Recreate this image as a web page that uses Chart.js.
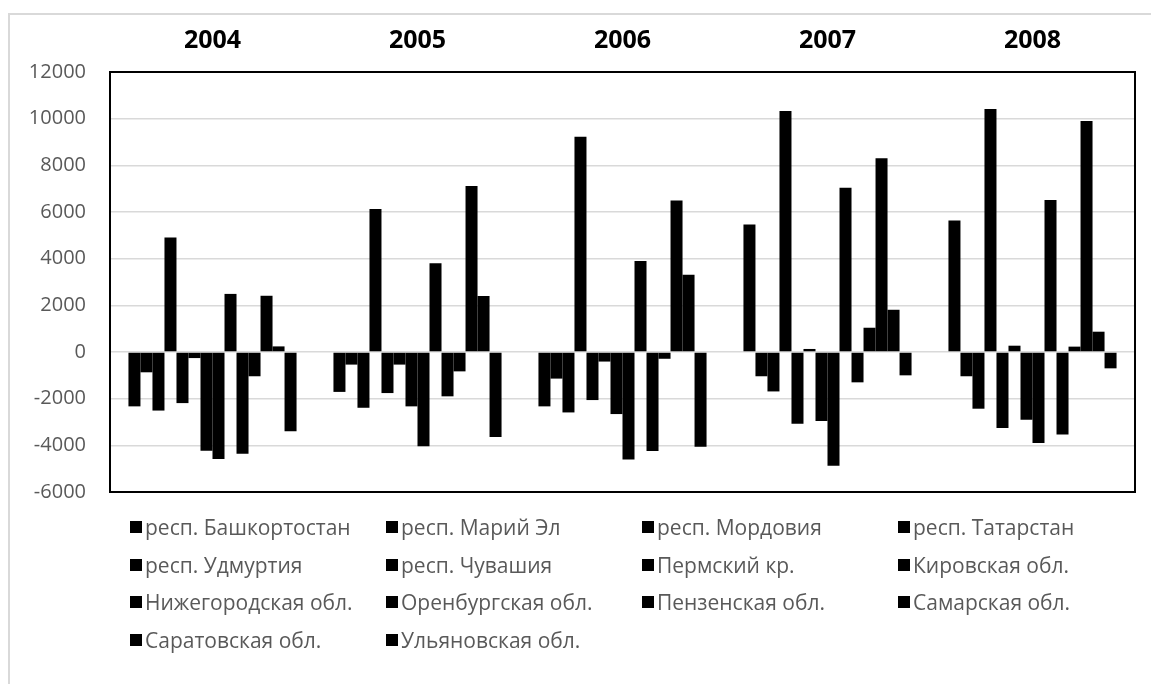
<!DOCTYPE html>
<html>
<head>
<meta charset="utf-8">
<script src="https://cdn.jsdelivr.net/npm/chart.js@4"></script>
<style>
  body { margin: 0; background: #fff; }
  #wrap { position: relative; width: 1151px; height: 684px; }
  #legend { position: absolute; left: 0; top: 0; width: 1151px; height: 684px; pointer-events: none;
            font-family: "Open Sans", sans-serif; font-size: 21px; line-height: 24px; color: #595959; }
  .item { position: absolute; display: flex; align-items: center; white-space: nowrap; }
  .box { width: 12px; height: 12px; background: #000; margin-right: 3px; }
</style>
</head>
<body>
<div id="wrap">
  <canvas id="myChart" width="1151" height="684"></canvas>
  <div id="legend"></div>
</div>
<script>
const years = ['2004', '2005', '2006', '2007', '2008'];
const regions = ['респ. Башкортостан', 'респ. Марий Эл', 'респ. Мордовия', 'респ. Татарстан',
                 'респ. Удмуртия', 'респ. Чувашия', 'Пермский кр.', 'Кировская обл.',
                 'Нижегородская обл.', 'Оренбургская обл.', 'Пензенская обл.', 'Самарская обл.',
                 'Саратовская обл.', 'Ульяновская обл.'];
const yTicks = [-6000, -4000, -2000, 0, 2000, 4000, 6000, 8000, 10000, 12000];

// values per region, one per year
const bashkortostan = [-2330, -1710, -2330, 5460, 5640];
const mariyEl = [-870, -540, -1140, -1040, -1040];
const mordoviya = [-2510, -2390, -2590, -1690, -2430];
const tatarstan = [4910, 6130, 9230, 10330, 10410];
const udmurtiya = [-2190, -1760, -2060, -3070, -3260];
const chuvashiya = [-260, -540, -410, 130, 270];
const perm = [-4230, -2330, -2660, -2960, -2900];
const kirov = [-4590, -4040, -4610, -4870, -3900];
const nizhniy = [2490, 3800, 3900, 7040, 6510];
const orenburg = [-4360, -1900, -4240, -1300, -3540];
const penza = [-1040, -830, -290, 1040, 230];
const samara = [2410, 7110, 6490, 8300, 9900];
const saratov = [240, 2400, 3310, 1810, 870];
const ulyanovsk = [-3400, -3640, -4060, -1000, -700];

const seriesValues = [bashkortostan, mariyEl, mordoviya, tatarstan, udmurtiya, chuvashiya, perm,
                      kirov, nizhniy, orenburg, penza, samara, saratov, ulyanovsk];

document.addEventListener("DOMContentLoaded", () => {
    const ctx = document.getElementById('myChart').getContext('2d');

    const frame = {
        id: 'frame',
        beforeDraw(chart) {
            const c = chart.ctx;
            c.save();
            c.strokeStyle = '#d9d9d9';
            c.lineWidth = 2;
            c.beginPath();
            c.moveTo(9, 684);
            c.lineTo(9, 14);
            c.lineTo(1151, 14);
            c.stroke();
            c.restore();
        },
        afterDatasetsDraw(chart) {
            const a = chart.chartArea;
            const c = chart.ctx;
            c.save();
            c.strokeStyle = '#000';
            c.lineWidth = 2;
            c.strokeRect(a.left, a.top, a.right - a.left, a.bottom - a.top);
            c.restore();
        }
    };

    new Chart(ctx, {
        type: 'bar',
        data: {
            labels: years,
            datasets: regions.map((name, i) => ({
                label: name,
                data: seriesValues[i],
                backgroundColor: '#000',
                borderWidth: 0,
                barPercentage: 1,
                categoryPercentage: 0.82
            }))
        },
        options: {
            responsive: false,
            animation: false,
            devicePixelRatio: 1,
            layout: { padding: { left: 0, top: 0, right: 16, bottom: 192 } },
            plugins: { legend: { display: false }, tooltip: { enabled: false } },
            scales: {
                x: {
                    position: 'top',
                    grid: { display: false, drawTicks: false },
                    border: { display: false },
                    ticks: { color: '#000', padding: 16, font: { family: 'Open Sans', size: 25, weight: 'bold' } },
                    afterFit: s => { s.height = 72; }
                },
                y: {
                    min: yTicks[0],
                    max: yTicks[yTicks.length - 1],
                    afterBuildTicks: s => { s.ticks = yTicks.map(v => ({ value: v })); },
                    grid: { color: '#d9d9d9', lineWidth: 1.5, drawTicks: false },
                    border: { display: false },
                    ticks: {
                        color: '#595959', padding: 24, font: { family: 'Open Sans', size: 20 },
                        callback: v => String(v)
                    },
                    afterFit: s => { s.width = 110; }
                }
            }
        },
        plugins: [frame]
    });

    // legend laid out as 4 columns like the original
    const legend = document.getElementById('legend');
    regions.forEach((name, i) => {
        const col = i % 4, row = Math.floor(i / 4);
        const el = document.createElement('div');
        el.className = 'item';
        el.style.left = (130 + col * 256) + 'px';
        el.style.top = (515 + row * 37.5) + 'px';
        el.innerHTML = '<span class="box"></span><span></span>';
        el.lastChild.textContent = name;
        legend.appendChild(el);
    });
});
</script>
</body>
</html>
